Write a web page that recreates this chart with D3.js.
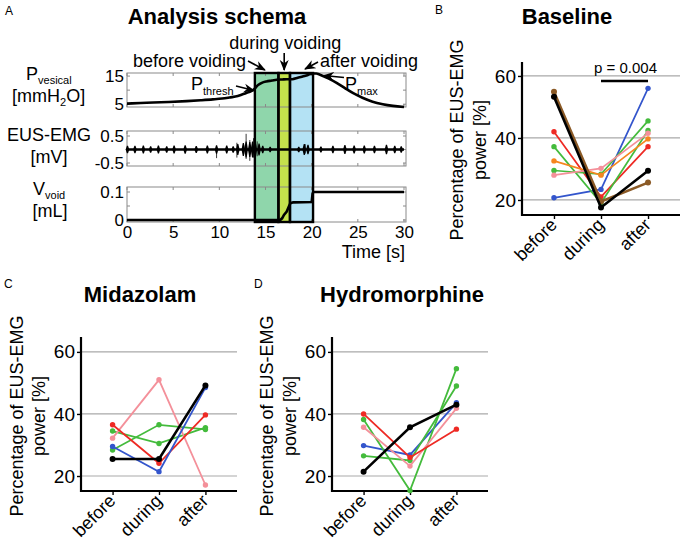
<!DOCTYPE html>
<html><head><meta charset="utf-8">
<script src="https://cdn.jsdelivr.net/npm/d3@7"></script>
<style>
body{margin:0;background:#fff}
svg{display:block}
text{font-family:"Liberation Sans",Arial,Helvetica,sans-serif;fill:#000}
</style>
</head><body>
<svg id="chart" width="683" height="540"></svg>
<script>
// ---------------- DATA ----------------
// Panel A: analysis schema
const timeTicks = [0, 5, 10, 15, 20, 25, 30];
const presTicks = [5, 10, 15];
const presLabels = [5, 15];
const emgTicks = [-0.5, 0, 0.5];
const emgLabels = [-0.5, 0.5];
const volTicks = [0, 0.05, 0.1];
const volLabels = [0, 0.1];

const pvesTime = [0, 1.5, 2.85, 4.5, 6.45, 8.0, 9.3, 10.3, 11.1, 12.0, 12.6, 13.2, 13.65, 14.2, 14.6, 15.1, 15.7, 16.2, 16.8, 17.3, 17.9, 18.5, 19.1, 19.6, 20.1, 20.5, 20.9, 21.8, 22.7, 23.6, 24.5, 25.5, 26.6, 27.7, 28.8, 30];
const pvesValue = [5.2, 5.4, 5.6, 5.8, 6.1, 6.4, 6.7, 7.0, 7.4, 7.9, 8.6, 9.3, 10.0, 11.8, 12.6, 13.1, 13.4, 13.7, 13.8, 13.9, 13.9, 14.4, 14.9, 15.4, 15.9, 15.9, 15.5, 14.2, 12.6, 10.7, 8.9, 7.3, 5.9, 5.0, 4.4, 4.0];

// EUS-EMG bursts: time [s], half amplitude [mV]
const emgBurstTime = [0.05, 0.86, 1.77, 2.56, 3.4, 4.3, 5.1, 6.3, 7.5, 8.7, 9.7, 10.8, 11.5, 12.0, 12.6, 12.9, 13.3, 13.6, 13.9, 14.3, 14.7, 15.5, 18.6, 19.2, 19.6, 21.0, 22.3, 23.6, 24.6, 25.7, 26.8, 28.1, 29.0, 29.7];
const emgBurstAmp  = [0.14, 0.14, 0.15, 0.12, 0.15, 0.12, 0.15, 0.16, 0.13, 0.15, 0.16, 0.15, 0.12, 0.2, 0.24, 0.3, 0.28, 0.3, 0.26, 0.22, 0.14, 0.1, 0.1, 0.2, 0.18, 0.11, 0.14, 0.17, 0.15, 0.15, 0.14, 0.18, 0.14, 0.12];
// thin single spikes: time, top, bottom [mV]
const emgSpikeTime = [9.7, 11.9, 12.9, 13.3, 13.7, 14.1, 19.3];
const emgSpikeTop  = [0.1, 0.25, 0.58, 0.35, 0.42, 0.3, 0.2];
const emgSpikeBot  = [-0.32, -0.3, -0.35, -0.42, -0.3, -0.25, -0.15];

const volTime  = [0, 16.6, 16.8, 17.0, 17.3, 17.55, 17.7, 18.0, 20.0, 20.1, 20.2, 30];
const volValue = [0, 0, 0.006, 0.018, 0.03, 0.05, 0.06, 0.063, 0.064, 0.095, 0.1, 0.1];

const windowNames = ["before voiding", "during voiding", "after voiding"];
const windowStart = [13.85, 16.4, 17.65];
const windowEnd   = [16.4, 17.65, 20.15];
const windowColor = ["#8fd6ab", "#c4e14c", "#b4e2f4"];

// Panels B-D
const phases = ["before", "during", "after"];
const yTicks = [20, 40, 60];

const baselineSeries = [
  {color: "#3355cc", values: [20.7, 23.4, 56.0]},
  {color: "#ee2a24", values: [42.0, 21.0, 37.2]},
  {color: "#44bb3c", values: [37.2, 19.0, 42.4]},
  {color: "#44bb3c", values: [29.5, 28.3, 45.5]},
  {color: "#f5861f", values: [32.6, 28.0, 39.7]},
  {color: "#f4909a", values: [28.0, 30.2, 41.5]},
  {color: "#8b5a26", values: [54.9, 19.5, 25.6]},
  {color: "#000000", values: [53.3, 17.6, 29.4]}
];
const midazolamSeries = [
  {color: "#44bb3c", values: [34.5, 30.5, 35.6]},
  {color: "#44bb3c", values: [28.4, 36.5, 35.0]},
  {color: "#f4909a", values: [32.2, 51.0, 17.1]},
  {color: "#ee2a24", values: [36.5, 24.1, 39.7]},
  {color: "#3355cc", values: [29.5, 21.4, 48.5]},
  {color: "#000000", values: [25.5, 25.5, 49.2]}
];
const hydromorphineSeries = [
  {color: "#3355cc", values: [29.8, 26.8, 43.6]},
  {color: "#44bb3c", values: [26.5, 25.0, 49.0]},
  {color: "#44bb3c", values: [38.2, 15.3, 54.6]},
  {color: "#f4909a", values: [35.7, 23.2, 41.8]},
  {color: "#ee2a24", values: [40.0, 26.0, 35.1]},
  {color: "#000000", values: [21.4, 35.7, 43.0]}
];
const pValueText = "p = 0.004";

// ---------------- DRAW ----------------
const svg = d3.select("#chart");
const FONT = 18;

// ===== Panel A =====
const xA = d3.scaleLinear().domain([0, 30]).range([127, 404]);
const yP = d3.scaleLinear().domain([4, 16.1]).range([107, 73]);
const yE = d3.scaleLinear().domain([-0.5, 0.5]).range([163, 136]);
const yV = d3.scaleLinear().domain([0, 0.1]).range([220, 192]);
const boxes = [
  {y0: 73, y1: 107, scale: yP, ticks: presTicks, labels: presLabels, fmt: d => d},
  {y0: 131, y1: 166, scale: yE, ticks: emgTicks, labels: emgLabels, fmt: d => d3.format(".1f")(d).replace("\u2212", "-")},
  {y0: 187, y1: 222, scale: yV, ticks: volTicks, labels: volLabels, fmt: d => d}
];
const bx0 = xA(0), bx1 = xA(30) + 2;

svg.append("text").attr("x", 5).attr("y", 15).attr("font-size", 12).text("A");
svg.append("text").attr("x", 217).attr("y", 24).attr("font-size", 22).attr("font-weight", "bold")
  .attr("text-anchor", "middle").text("Analysis schema");

// windows (fill)
const gW = svg.append("g");
windowStart.forEach((s, i) => {
  gW.append("rect").attr("x", xA(s)).attr("y", 73).attr("width", xA(windowEnd[i]) - xA(s))
    .attr("height", 222 - 73).attr("fill", windowColor[i]);
});

// boxes with inward ticks
boxes.forEach(b => {
  const g = svg.append("g");
  g.append("rect").attr("x", bx0).attr("y", b.y0).attr("width", bx1 - bx0).attr("height", b.y1 - b.y0)
    .attr("fill", "none").attr("stroke", "#8a8a8a").attr("stroke-width", 1);
  timeTicks.forEach(t => {
    g.append("line").attr("x1", xA(t)).attr("x2", xA(t)).attr("y1", b.y0).attr("y2", b.y0 + 3).attr("stroke", "#8a8a8a");
    g.append("line").attr("x1", xA(t)).attr("x2", xA(t)).attr("y1", b.y1).attr("y2", b.y1 - 3).attr("stroke", "#8a8a8a");
  });
  b.ticks.forEach(v => {
    g.append("line").attr("x1", bx0).attr("x2", bx0 + 3).attr("y1", b.scale(v)).attr("y2", b.scale(v)).attr("stroke", "#8a8a8a");
    g.append("line").attr("x1", bx1).attr("x2", bx1 - 3).attr("y1", b.scale(v)).attr("y2", b.scale(v)).attr("stroke", "#8a8a8a");
  });
  b.labels.forEach(v => {
    g.append("text").attr("x", bx0 - 3).attr("y", b.scale(v)).attr("dy", "0.36em")
      .attr("text-anchor", "end").attr("font-size", 17).text(b.fmt(v));
  });
});

// time axis labels
const xAxisA = d3.axisBottom(xA).tickValues(timeTicks).tickSize(0).tickPadding(4);
const gxa = svg.append("g").attr("transform", "translate(0,222)").call(xAxisA);
gxa.select(".domain").remove();
gxa.selectAll("text").attr("font-size", 17).attr("font-family", "Liberation Sans, Arial, sans-serif").attr("fill", "#000");
svg.append("text").attr("x", 405).attr("y", 258).attr("text-anchor", "end").attr("font-size", FONT).text("Time [s]");

// EMG
emgSpikeTime.forEach((t, i) => {
  svg.append("line").attr("x1", xA(t)).attr("x2", xA(t)).attr("y1", yE(emgSpikeTop[i])).attr("y2", yE(emgSpikeBot[i]))
    .attr("stroke", "#222").attr("stroke-width", 0.9);
});
emgBurstTime.forEach((t, i) => {
  const a = emgBurstAmp[i];
  const p = d3.path();
  p.moveTo(xA(t - 0.2), yE(0));
  p.lineTo(xA(t - 0.06), yE(a));
  p.lineTo(xA(t + 0.06), yE(a));
  p.lineTo(xA(t + 0.2), yE(0));
  p.lineTo(xA(t + 0.06), yE(-a));
  p.lineTo(xA(t - 0.06), yE(-a));
  p.closePath();
  svg.append("path").attr("d", p.toString()).attr("fill", "#000");
});

// window borders
windowStart.forEach((s, i) => {
  svg.append("rect").attr("x", xA(s)).attr("y", 73).attr("width", xA(windowEnd[i]) - xA(s))
    .attr("height", 222 - 73).attr("fill", "none").attr("stroke", "#000").attr("stroke-width", 2.4);
});

// signals on top
svg.append("path").datum(pvesTime.map((t, i) => [t, pvesValue[i]]))
  .attr("d", d3.line().x(d => xA(d[0])).y(d => yP(d[1])).curve(d3.curveMonotoneX))
  .attr("fill", "none").attr("stroke", "#000").attr("stroke-width", 2.6);
svg.append("path").datum(volTime.map((t, i) => [t, volValue[i]]))
  .attr("d", d3.line().x(d => xA(d[0])).y(d => yV(d[1])))
  .attr("fill", "none").attr("stroke", "#000").attr("stroke-width", 2.6);
svg.append("line").attr("x1", xA(0)).attr("x2", xA(30)).attr("y1", yE(0)).attr("y2", yE(0))
  .attr("stroke", "#000").attr("stroke-width", 2.4);

// arrow marker
const defs = svg.append("defs");
defs.append("marker").attr("id", "arr").attr("viewBox", "0 0 10 10").attr("refX", 9).attr("refY", 5)
  .attr("markerWidth", 7).attr("markerHeight", 7).attr("orient", "auto-start-reverse")
  .append("path").attr("d", "M0,1 L10,5 L0,9 L3,5 Z").attr("fill", "#000");
function arrow(x1, y1, x2, y2) {
  svg.append("line").attr("x1", x1).attr("y1", y1).attr("x2", x2).attr("y2", y2)
    .attr("stroke", "#000").attr("stroke-width", 1.6).attr("marker-end", "url(#arr)");
}

// window annotations
const wMid = windowStart.map((s, i) => (s + windowEnd[i]) / 2);
svg.append("text").attr("x", 246).attr("y", 67).attr("text-anchor", "end").attr("font-size", FONT).text(windowNames[0]);
arrow(248, 61, xA(windowStart[0]) + 10, 70);
svg.append("text").attr("x", xA(wMid[1]) + 1).attr("y", 49).attr("text-anchor", "middle").attr("font-size", FONT).text(windowNames[1]);
arrow(xA(wMid[1]), 53, xA(wMid[1]), 70);
svg.append("text").attr("x", 320).attr("y", 67).attr("text-anchor", "start").attr("font-size", FONT).text(windowNames[2]);
arrow(318, 62, xA(windowEnd[2]) - 8, 69);

// Pthresh / Pmax
const tP = svg.append("text").attr("x", 191).attr("y", 90).attr("font-size", FONT);
tP.append("tspan").text("P");
tP.append("tspan").attr("font-size", 11).attr("dy", 5).text("thresh");
arrow(236, 86, xA(13.75), yP(9.9));
const tM = svg.append("text").attr("x", 345).attr("y", 90).attr("font-size", FONT);
tM.append("tspan").text("P");
tM.append("tspan").attr("font-size", 11).attr("dy", 5).text("max");
arrow(344, 77.5, xA(21.3), yP(15.2));

// left labels
function subLabel(x, y, main, sub) {
  const t = svg.append("text").attr("x", x).attr("y", y).attr("font-size", FONT);
  t.append("tspan").text(main);
  t.append("tspan").attr("font-size", 11).attr("dy", 4).text(sub);
}
subLabel(26, 80, "P", "vesical");
const mm = svg.append("text").attr("x", 12).attr("y", 102).attr("font-size", FONT);
mm.append("tspan").text("[mmH");
mm.append("tspan").attr("font-size", 11).attr("dy", 4).text("2");
mm.append("tspan").attr("dy", -4).text("O]");
svg.append("text").attr("x", 49).attr("y", 141).attr("text-anchor", "middle").attr("font-size", FONT).text("EUS-EMG");
svg.append("text").attr("x", 49).attr("y", 163).attr("text-anchor", "middle").attr("font-size", FONT).text("[mV]");
subLabel(33, 195, "V", "void");
svg.append("text").attr("x", 50).attr("y", 217).attr("text-anchor", "middle").attr("font-size", FONT).text("[mL]");

// ===== Panels B, C, D =====
function pointPanel(opt) {
  const x = d3.scalePoint().domain(phases).range([opt.left, opt.right]).padding(0.68);
  const y = d3.scaleLinear().domain(opt.ydom).range([opt.bottom, opt.top]);
  const g = svg.append("g");
  yTicks.forEach(v => {
    g.append("line").attr("x1", opt.left).attr("x2", opt.right).attr("y1", y(v)).attr("y2", y(v))
      .attr("stroke", "#a9a9a9").attr("stroke-width", 1.2);
  });
  const ya = d3.axisLeft(y).tickValues(yTicks).tickSize(4).tickPadding(2);
  const gy = g.append("g").attr("transform", `translate(${opt.left},0)`).call(ya);
  gy.select(".domain").remove();
  gy.selectAll("line").attr("stroke", "#000").attr("stroke-width", 1.4);
  gy.selectAll("text").attr("font-size", 19).attr("font-family", "Liberation Sans, Arial, sans-serif").attr("fill", "#000");
  const xa = d3.axisBottom(x).tickSize(4).tickFormat("");
  const gx = g.append("g").attr("transform", `translate(0,${opt.bottom})`).call(xa);
  gx.select(".domain").remove();
  gx.selectAll("line").attr("stroke", "#000").attr("stroke-width", 1.4);
  phases.forEach(p => {
    g.append("text").attr("transform", `translate(${x(p) + 4},${opt.bottom + 11}) rotate(-45)`)
      .attr("text-anchor", "end").attr("font-size", FONT).text(p);
  });
  g.append("line").attr("x1", opt.left).attr("x2", opt.left).attr("y1", opt.bottom + 1).attr("y2", opt.top)
    .attr("stroke", "#000").attr("stroke-width", 2.2);
  g.append("line").attr("x1", opt.left - 1).attr("x2", opt.right).attr("y1", opt.bottom).attr("y2", opt.bottom)
    .attr("stroke", "#000").attr("stroke-width", 2.2);
  const line = d3.line().x((d, i) => x(phases[i])).y(d => y(d));
  opt.series.forEach(s => {
    const thick = (s.color === "#000000" || s.color === "#8b5a26");
    g.append("path").datum(s.values).attr("d", line).attr("fill", "none")
      .attr("stroke", s.color).attr("stroke-width", thick ? 2.6 : opt.lw);
    s.values.forEach((v, i) => {
      g.append("circle").attr("cx", x(phases[i])).attr("cy", y(v)).attr("r", thick ? 3 : 2.7).attr("fill", s.color);
    });
  });
  svg.append("text").attr("x", opt.labelX).attr("y", opt.labelY).attr("font-size", 12).text(opt.letter);
  svg.append("text").attr("x", opt.titleX).attr("y", opt.titleY).attr("text-anchor", "middle")
    .attr("font-size", 22).attr("font-weight", "bold").text(opt.title);
  const cy = opt.ylabY;
  svg.append("text").attr("transform", `translate(${opt.ylab1},${cy}) rotate(-90)`).attr("text-anchor", "middle")
    .attr("font-size", FONT).text("Percentage of EUS-EMG");
  svg.append("text").attr("transform", `translate(${opt.ylab2},${cy}) rotate(-90)`).attr("text-anchor", "middle")
    .attr("font-size", FONT).text("power [%]");
  return {x, y};
}

const B = pointPanel({left: 522, right: 680, top: 62, bottom: 215, ydom: [15.15, 64.5], series: baselineSeries,
  lw: 1.7, letter: "B", labelX: 435, labelY: 14, title: "Baseline", titleX: 567, titleY: 24,
  ylab1: 463, ylab2: 486, ylabY: 140});
svg.append("line").attr("x1", B.x("during")).attr("x2", B.x("after")).attr("y1", 81).attr("y2", 81)
  .attr("stroke", "#000").attr("stroke-width", 2.6);
svg.append("text").attr("x", (B.x("during") + B.x("after")) / 2 + 1).attr("y", 73).attr("text-anchor", "middle")
  .attr("font-size", 15).text(pValueText);

pointPanel({left: 81, right: 237, top: 337, bottom: 491, ydom: [15.17, 64.8], series: midazolamSeries,
  lw: 1.8, letter: "C", labelX: 4, labelY: 288, title: "Midazolam", titleX: 140, titleY: 302,
  ylab1: 23, ylab2: 45, ylabY: 416});
pointPanel({left: 332, right: 488, top: 337, bottom: 491, ydom: [15.17, 64.8], series: hydromorphineSeries,
  lw: 1.8, letter: "D", labelX: 254, labelY: 288, title: "Hydromorphine", titleX: 402, titleY: 302,
  ylab1: 273, ylab2: 296, ylabY: 416});
</script>
</body></html>
